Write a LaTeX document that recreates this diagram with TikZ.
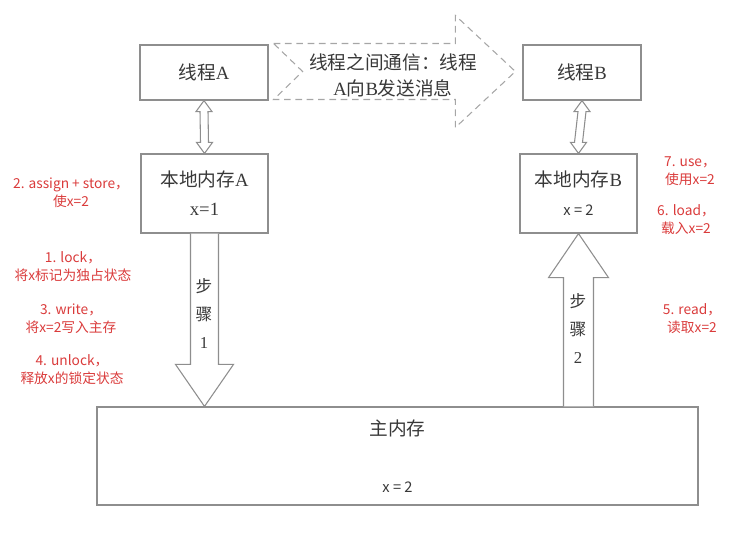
\documentclass[tikz,border=0pt]{standalone}
\usepackage{fontspec}
\setmainfont{Liberation Serif}
\newfontfamily\cjk{Noto Sans CJK SC}
\usepackage{xcolor}
\definecolor{LineGray}{HTML}{8E8E8E}
\definecolor{DashGray}{HTML}{A6A6A6}
\definecolor{TextGray}{HTML}{383838}
\definecolor{NoteRed}{HTML}{DA3B3B}
\usepackage{tikz}
\usetikzlibrary{calc}

\begin{document}
\begin{tikzpicture}[x=0.75pt, y=-0.75pt,
  membox/.style={draw=LineGray, line width=0.9pt, text=TextGray, align=center,
    font=\fontsize{14}{16}\selectfont, inner sep=0pt},
  hollow/.style={draw=LineGray, line width=0.8pt, fill=white, line join=miter},
  dashline/.style={draw=DashGray, line width=0.8pt, dash pattern=on 5pt off 3.5pt},
  note/.style={text=NoteRed, align=center, font=\cjk\fontsize{10.3}{13.5}\selectfont},
  steptext/.style={text=TextGray, align=center, font=\fontsize{12.5}{21}\selectfont}]
  % page frame, same size as the source picture (px)
  \useasboundingbox (0,0) rectangle (738,533);

  % Threads and their local memories
  \node[membox, minimum width=96pt, minimum height=41.25pt] (thrA) at (204,72.5) {{\cjk 线程}A};
  \node[membox, minimum width=88.5pt, minimum height=41.25pt] (thrB) at (582,72.5) {{\cjk 线程}B};
  \node[membox, minimum width=95.25pt, minimum height=59.25pt] (memA) at (204.5,193.5)
    {{\cjk 本地内存}A\\[5.75pt]x=1};
  \node[membox, minimum width=87.75pt, minimum height=59.25pt] (memB) at (578.5,193.5)
    {{\cjk 本地内存}B\\[5.75pt]{\cjk\fontsize{11}{13}\selectfont x = 2}};

  % Main memory
  \node[membox, minimum width=450.75pt, minimum height=73.5pt] (mainMem) at (397.5,456)
    {{\cjk 主内存}\\[26.75pt]{\cjk\fontsize{11}{13}\selectfont x = 2}};

  % Double arrows thread <-> local memory
  \draw[hollow] (thrA.south) -- ++(8,11) -- ++(-4,0) -- ($(memA.north)+(4,-11)$) -- ++(4,0)
    -- (memA.north) -- ++(-8,-11) -- ++(4,0) -- ($(thrA.south)+(-4,11)$) -- ++(-4,0) -- cycle;
  \draw[hollow] (thrB.south) -- ++(8,11) -- ++(-4,0) -- ($(memB.north)+(4,-11)$) -- ++(4,0)
    -- (memB.north) -- ++(-8,-11) -- ++(4,0) -- ($(thrB.south)+(-4,11)$) -- ++(-4,0) -- cycle;

  % Communication arrow A -> B (dashed)
  \coordinate (comT) at ($(thrA.east)+(5,-1)$);
  \coordinate (comH) at ($(thrB.west)+(-7,-1)$);
  \draw[dashline] ($(comT)+(0,-28)$) -- ($(comH)+(-60,-28)$) -- ($(comH)+(-60,-56)$) -- (comH)
    -- ($(comH)+(-60,56)$) -- ($(comH)+(-60,28)$) -- ($(comT)+(0,28)$) -- ($(comT)+(29,0)$) -- cycle;
  \node[text=TextGray, align=center, font=\fontsize{14}{19.5}\selectfont] (comLbl) at (393,75)
    {{\cjk 线程之间通信：线程}\\A{\cjk 向}B{\cjk 发送消息}};

  % Step 1: local memory A -> main memory
  \coordinate (s1tip) at (memA.south |- mainMem.north);
  \draw[hollow] ($(memA.south)+(-14,0)$) -- ($(s1tip)+(-14,-42)$) -- ($(s1tip)+(-29,-42)$) -- (s1tip)
    -- ($(s1tip)+(29,-42)$) -- ($(s1tip)+(14,-42)$) -- ($(memA.south)+(14,0)$);
  \node[steptext] (s1Lbl) at (204,313) {{\cjk 步}\\{\cjk 骤}\\1};

  % Step 2: main memory -> local memory B
  \coordinate (s2base) at (memB.south |- mainMem.north);
  \draw[hollow] ($(s2base)+(-15,0)$) -- ($(memB.south)+(-15,44)$) -- ($(memB.south)+(-30,44)$) -- (memB.south)
    -- ($(memB.south)+(30,44)$) -- ($(memB.south)+(15,44)$) -- ($(s2base)+(15,0)$);
  \node[steptext] (s2Lbl) at (578,328) {{\cjk 步}\\{\cjk 骤}\\2};

  % Operation notes
  \node[note] (nAssign) at (71,193)   {2. assign + store，\\使x=2};
  \node[note] (nLock)   at (73,267)   {1. lock，\\将x标记为独占状态};
  \node[note] (nWrite)  at (71,319)   {3. write，\\将x=2写入主存};
  \node[note] (nUnlock) at (72,369.5) {4. unlock，\\释放x的锁定状态};
  \node[note] (nUse)    at (690,171.5) {7. use，\\使用x=2};
  \node[note] (nLoad)   at (686,219.5) {6. load，\\载入x=2};
  \node[note] (nRead)   at (692,318.5) {5. read，\\读取x=2};
\end{tikzpicture}
\end{document}
